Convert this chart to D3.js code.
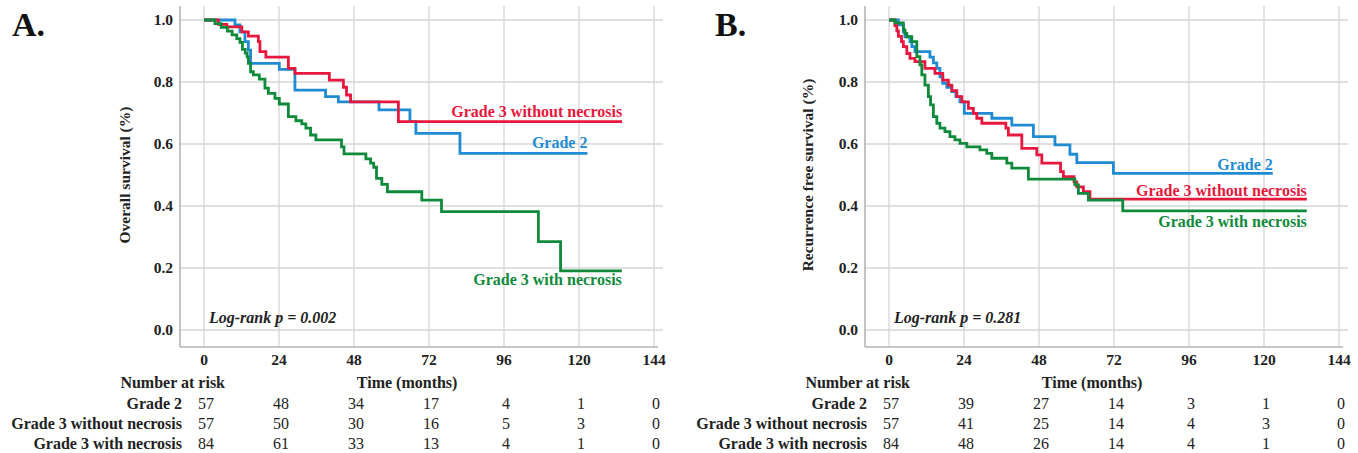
<!DOCTYPE html>
<html><head><meta charset="utf-8">
<script src="https://cdn.jsdelivr.net/npm/d3@7"></script>
<style>
body{margin:0;background:#fff}
svg{display:block}
text{font-family:"Liberation Serif","Times New Roman",serif}
</style>
</head><body>
<svg id="c" width="1358" height="453"></svg>
<script>
// ---------- data ----------
const timeTicks = [0, 24, 48, 72, 96, 120, 144];
const survTicks = [0, 0.2, 0.4, 0.6, 0.8, 1.0];
const groupNames = ["Grade 2", "Grade 3 without necrosis", "Grade 3 with necrosis"];

// Panel A: overall survival, [time (months), survival]
const osGrade2 = [[0,1],[9.9,0.984],[11.5,0.962],[13.1,0.930],[14.2,0.903],[14.9,0.860],[24.1,0.841],[29.1,0.774],[38.9,0.753],[43,0.736],[56,0.710],[65.9,0.672],[67.8,0.634],[81.9,0.570],[122.7,0.570]];
const osG3NoNecrosis = [[0,1],[4.6,0.986],[7.3,0.978],[12.1,0.962],[14.2,0.948],[17.4,0.930],[17.9,0.898],[19.8,0.880],[27,0.844],[29.1,0.828],[40.1,0.806],[44.6,0.783],[45.6,0.758],[46.9,0.736],[62.2,0.672],[133.8,0.672]];
const osG3Necrosis = [[0,1],[3.5,0.988],[5.5,0.976],[7.5,0.964],[9,0.952],[10.5,0.94],[11.5,0.928],[12.3,0.905],[13.2,0.893],[13.8,0.881],[14.2,0.860],[14.9,0.833],[15.8,0.823],[17.7,0.809],[19.5,0.780],[20.6,0.763],[22.7,0.747],[24.1,0.729],[27,0.688],[29.4,0.675],[31.3,0.665],[32.6,0.651],[34.1,0.629],[35.8,0.613],[44,0.591],[44.8,0.568],[51.8,0.552],[53.3,0.538],[54.3,0.525],[55.2,0.489],[56.9,0.470],[58.7,0.446],[69.7,0.419],[76,0.382],[107,0.285],[114.1,0.191],[133.7,0.191]];

// Panel B: recurrence free survival
const rfsGrade2 = [[0,1],[3.0,0.984],[4.6,0.962],[5.1,0.946],[6.7,0.930],[7.3,0.914],[8.3,0.898],[13.1,0.880],[14.2,0.862],[15.3,0.844],[16.3,0.817],[17.2,0.796],[18.5,0.783],[20.1,0.769],[21.4,0.753],[22.7,0.736],[24.1,0.699],[32.9,0.683],[39.3,0.661],[46.2,0.624],[53.1,0.597],[57.9,0.567],[60.1,0.540],[71.8,0.505],[122.8,0.505]];
const rfsG3NoNecrosis = [[0,1],[1.9,0.982],[2.5,0.965],[3.0,0.947],[4.0,0.930],[4.6,0.914],[5.7,0.892],[6.7,0.876],[8.3,0.866],[11.5,0.844],[14.7,0.828],[17.2,0.806],[19,0.790],[20.1,0.772],[21.7,0.753],[23.3,0.736],[25.4,0.715],[27,0.699],[28.1,0.683],[29.7,0.667],[37.4,0.651],[38.2,0.629],[42.5,0.586],[47.3,0.565],[48.9,0.538],[54.9,0.511],[55.8,0.495],[59.2,0.478],[60.1,0.462],[62.2,0.446],[64.3,0.422],[133.7,0.422]];
const rfsG3Necrosis = [[0,1],[1.9,0.991],[4.6,0.968],[5.1,0.957],[5.7,0.946],[7.3,0.930],[8.9,0.882],[9.9,0.855],[10.5,0.823],[11.5,0.790],[12.6,0.753],[13.3,0.726],[14.2,0.688],[15.3,0.667],[16.3,0.651],[17.9,0.640],[19.5,0.624],[21.1,0.613],[22.7,0.602],[24.9,0.591],[29.1,0.581],[31.3,0.570],[32.9,0.554],[37.7,0.538],[39.3,0.522],[44.6,0.487],[59.5,0.468],[60.6,0.441],[63.8,0.419],[74.8,0.384],[133.7,0.384]];

// Number at risk at each time tick
const osRiskGrade2 = [57, 48, 34, 17, 4, 1, 0];
const osRiskG3NoNecrosis = [57, 50, 30, 16, 5, 3, 0];
const osRiskG3Necrosis = [84, 61, 33, 13, 4, 1, 0];
const rfsRiskGrade2 = [57, 39, 27, 14, 3, 1, 0];
const rfsRiskG3NoNecrosis = [57, 41, 25, 14, 4, 3, 0];
const rfsRiskG3Necrosis = [84, 48, 26, 14, 4, 1, 0];

// ---------- styling ----------
const colors = ["#1f8bd3", "#e8173d", "#0f8a3b"];
const svg = d3.select("#c");

function panel(o) {
  const x = d3.scaleLinear().domain([0, 144]).range([o.x0, o.x0 + 450]);
  const y = d3.scaleLinear().domain([0, 1]).range([330, 20]);
  const g = svg.append("g");
  const left = o.x0 - 24, right = x(144) + 9, top = 6, bottom = 347;

  // grid
  g.selectAll(".hg").data(survTicks).join("line")
    .attr("x1", left).attr("x2", right).attr("y1", d => y(d)).attr("y2", d => y(d))
    .attr("stroke", "#d6d6d6").attr("stroke-width", 1.3);
  g.selectAll(".vg").data(timeTicks).join("line")
    .attr("x1", d => x(d)).attr("x2", d => x(d)).attr("y1", top).attr("y2", bottom)
    .attr("stroke", "#d6d6d6").attr("stroke-width", 1.3);
  // axes frame
  g.append("line").attr("x1", left).attr("x2", left).attr("y1", top).attr("y2", bottom)
    .attr("stroke", "#b4b4b4").attr("stroke-width", 1.6);
  g.append("line").attr("x1", left).attr("x2", x(144) + 4).attr("y1", bottom).attr("y2", bottom)
    .attr("stroke", "#b4b4b4").attr("stroke-width", 1.6);

  // tick labels
  g.selectAll(".yl").data(survTicks).join("text")
    .attr("x", left - 7).attr("y", d => y(d) + 5).attr("text-anchor", "end")
    .attr("font-size", 15.5).attr("font-weight", "bold").attr("fill", "#222")
    .text(d => d3.format(".1f")(d));
  g.selectAll(".xl").data(timeTicks).join("text")
    .attr("x", d => x(d)).attr("y", 365).attr("text-anchor", "middle")
    .attr("font-size", 15.5).attr("font-weight", "bold").attr("fill", "#222")
    .text(d => d);

  // y title
  g.append("text").attr("transform", `translate(${o.titleX},175) rotate(-90)`)
    .attr("text-anchor", "middle").attr("font-size", 15.5).attr("font-weight", "bold").attr("fill", "#222")
    .text(o.yTitle);

  // panel letter
  g.append("text").attr("x", o.letterX).attr("y", 36).attr("font-size", 34).attr("font-weight", "bold")
    .attr("fill", "#111").text(o.letter);

  // curves
  const line = d3.line().x(d => x(d[0])).y(d => y(d[1])).curve(d3.curveStepAfter);
  o.series.forEach((s, i) => {
    g.append("path").datum(s).attr("d", line).attr("fill", "none")
      .attr("stroke", colors[i]).attr("stroke-width", 2.8);
  });
  // curve labels
  o.series.forEach((s, i) => {
    const last = s[s.length - 1];
    g.append("text").attr("x", x(last[0])).attr("y", y(last[1]) + o.labelDy[i])
      .attr("text-anchor", "end").attr("font-size", 16).attr("font-weight", "bold")
      .attr("fill", colors[i]).text(groupNames[i]);
  });

  // log-rank
  g.append("text").attr("x", x(0) + 5).attr("y", y(0) - 7)
    .attr("font-size", 16).attr("font-weight", "bold").attr("font-style", "italic").attr("fill", "#222")
    .text(o.logrank);

  // number at risk table
  g.append("text").attr("x", x(0) + 21).attr("y", 388).attr("text-anchor", "end")
    .attr("font-size", 16).attr("font-weight", "bold").attr("fill", "#222").text("Number at risk");
  g.append("text").attr("x", x(65)).attr("y", 388).attr("text-anchor", "middle")
    .attr("font-size", 16).attr("font-weight", "bold").attr("fill", "#222").text("Time (months)");
  const rowY = [409, 429, 449];
  o.risk.forEach((r, i) => {
    g.append("text").attr("x", x(0) - 22).attr("y", rowY[i]).attr("text-anchor", "end")
      .attr("font-size", 16).attr("font-weight", "bold").attr("fill", "#222").text(groupNames[i]);
    g.selectAll(null).data(r).join("text")
      .attr("x", (d, j) => x(timeTicks[j]) + 2).attr("y", rowY[i]).attr("text-anchor", "middle")
      .attr("font-size", 16).attr("fill", "#222").text(d => d);
  });
}

panel({x0: 204, titleX: 130, letterX: 12, letter: "A.", yTitle: "Overall survival (%)",
  series: [osGrade2, osG3NoNecrosis, osG3Necrosis], labelDy: [-5, -5, 14],
  logrank: "Log-rank p = 0.002", risk: [osRiskGrade2, osRiskG3NoNecrosis, osRiskG3Necrosis]});
panel({x0: 889, titleX: 813, letterX: 715, letter: "B.", yTitle: "Recurrence free survival (%)",
  series: [rfsGrade2, rfsG3NoNecrosis, rfsG3Necrosis], labelDy: [-3, -3, 16],
  logrank: "Log-rank p = 0.281", risk: [rfsRiskGrade2, rfsRiskG3NoNecrosis, rfsRiskG3Necrosis]});
</script>
</body></html>
